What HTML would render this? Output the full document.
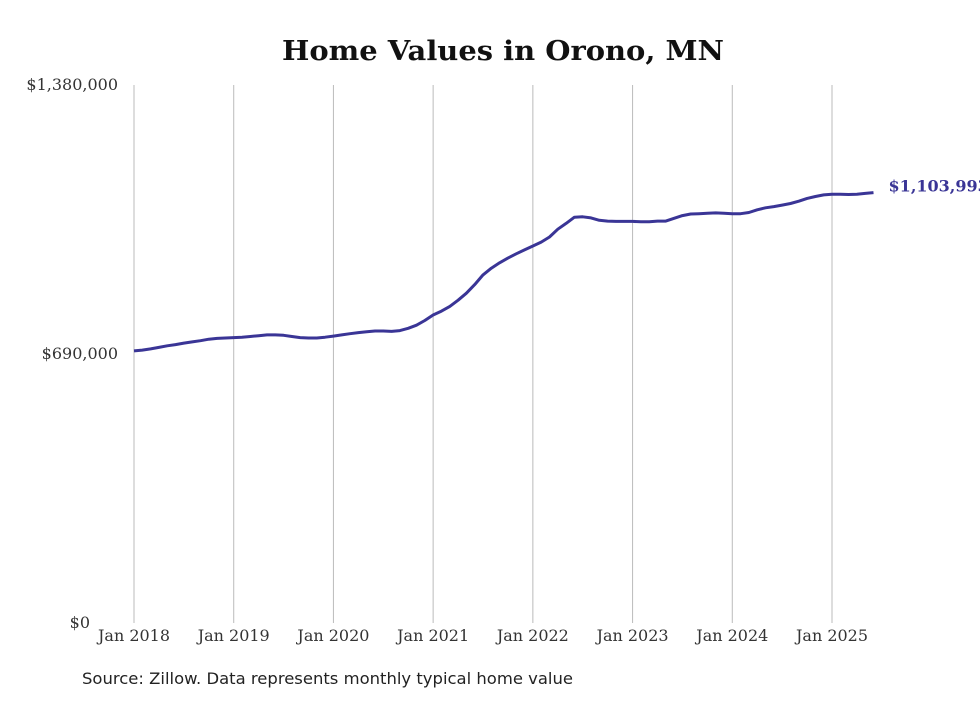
<!DOCTYPE html>
<html><head><meta charset="utf-8"><style>
body{margin:0;background:#fff;width:980px;height:699px;overflow:hidden;}
svg text{font-family:"DejaVu Serif","Liberation Serif",serif;}
</style></head><body>
<svg id="chart" width="980" height="699" xmlns="http://www.w3.org/2000/svg">
<text x="282" y="60" textLength="442" lengthAdjust="spacingAndGlyphs" font-size="27" font-weight="bold" fill="#111">Home Values in Orono, MN</text>
<g id="grid"></g><g id="yticks"></g><g id="xticks"></g>
<path id="line" fill="none" stroke="#3a3596" stroke-width="3" stroke-linejoin="round"/>
<text id="endlabel" font-size="16" font-weight="bold" fill="#3a3596"></text>
<text x="82" y="684" textLength="491" lengthAdjust="spacingAndGlyphs" font-size="16" fill="#222" style="font-family:'DejaVu Sans','Liberation Sans',sans-serif">Source: Zillow. Data represents monthly typical home value</text>
</svg>
<script>
const xLabels=["Jan 2018","Jan 2019","Jan 2020","Jan 2021","Jan 2022","Jan 2023","Jan 2024","Jan 2025"];
const yTicks=[0,690000,1380000];
const yTickLabels=["$0","$690,000","$1,380,000"];
const values=[
698,700,703,707,711,714,718,721,724,728,730,731,
732,733,735,737,739,739,738,735,732,731,731,733,
736,739,742,745,747,749,749,748,750,756,764,776,
790,800,812,828,846,868,893,910,924,936,947,957,
967,977,990,1010,1025,1041,1042,1039,1033,1031,1030,1030,
1030,1029,1029,1031,1031,1038,1045,1049,1050,1051,1052,1051,
1050,1050,1053,1060,1065,1068,1072,1076,1082,1089,1094,1098,
1100,1100,1099,1100,1102,1103.993];
const NS="http://www.w3.org/2000/svg";
const x=m=>134+m*(698/84);
const y=v=>623-v/1380000*538;
const grid=document.getElementById('grid'),xt=document.getElementById('xticks'),yt=document.getElementById('yticks');
xLabels.forEach((l,i)=>{
 const ln=document.createElementNS(NS,'line');
 
 
 ln.setAttribute('x1',x(i*12));ln.setAttribute('x2',x(i*12));ln.setAttribute('y1',85);ln.setAttribute('y2',623);
 ln.setAttribute('stroke','#bbb');ln.setAttribute('stroke-width','1');grid.appendChild(ln);
 const t=document.createElementNS(NS,'text');
 
 
 t.setAttribute('x',x(i*12)-36);t.setAttribute('y',641);t.setAttribute('textLength','72');t.setAttribute('lengthAdjust','spacingAndGlyphs');t.setAttribute('font-size','16');t.setAttribute('fill','#333');
 t.textContent=l;xt.appendChild(t);
});
yTicks.forEach((v,i)=>{
 const t=document.createElementNS(NS,'text');
 
 
 t.setAttribute('x',v===0?90:118);t.setAttribute('y',y(v)+5);t.setAttribute('text-anchor','end');t.setAttribute('font-size','16');t.setAttribute('fill','#333');
 t.textContent=yTickLabels[i];yt.appendChild(t);
});
let d='';values.forEach((v,i)=>{d+=(i?'L':'M')+x(i).toFixed(1)+','+y(v*1000).toFixed(1);});
document.getElementById('line').setAttribute('d',d);
const last=values.length-1,el=document.getElementById('endlabel');
el.setAttribute('x',x(last)+15);el.setAttribute('y',y(values[last]*1000)-1);
el.textContent='$'+Math.round(values[last]*1000).toLocaleString('en-US');
</script>
</body></html>
